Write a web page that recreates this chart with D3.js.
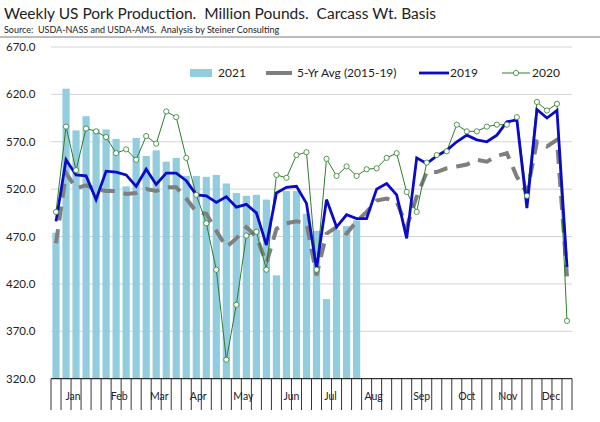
<!DOCTYPE html>
<html><head><meta charset="utf-8">
<script src="https://cdn.jsdelivr.net/npm/d3@7"></script>
<style>body{margin:0;background:#fff}svg{font-family:Lato,"Open Sans",sans-serif}text{white-space:pre}</style>
</head><body><svg id="c" width="600" height="422"></svg>
<script>
// weekly values, week 1..52
var y2021 = [474,626,582,597,583,583,573,523,574,555,561,549,553,534,534,533,535,526,516,513,514,509,429,518,518,494,476,404,477,481,487];
var y2019 = [486,551,535,534,509,539,538,535,523,541,525,537,537,529,514,513,506,512,501,504,495,461,516,522,523,505,436,509,480,493,489,489,520,526,514,468,553,547,555,561,570,577,572,570,577,591,593,500,604,595,603,438];
var y2020 = [496,586,540,584,581,575,558,562,551,576,568,602,596,553,514,484,435,340,398,471,475,435,535,532,556,559,435,552,534,544,534,541,542,553,558,517,496,548,556,560,588,581,581,586,588,588,596,513,612,603,610,381];
var avg5 = [463,537,521,524,520,518,518,515,516,520,518,522,522,510,496,494,476,459,468,480,470,442,478,484,486,484,429,473,480,473,486,496,508,510,507,480,512,538,538,542,544,546,551,549,555,558,533,516,570,565,572,428];
var months = ["Jan","Feb","Mar","Apr","May","Jun","Jul","Aug","Sep","Oct","Nov","Dec"];
var monthPos = [1.7,6.3,10.3,14.2,18.7,23.5,27.4,31.7,36.5,41,45.1,49.4];
var yTicks = [320,370,420,470,520,570,620,670];

var svg = d3.select("#c");
var weeks = d3.range(52);
var x = d3.scaleBand().domain(weeks).range([51,572]).paddingInner(0.28).paddingOuter(0.14);
var y = d3.scaleLinear().domain([320,670]).range([378.7,47]);
var cx = function(i){ return x(i) + x.bandwidth()/2; };

svg.append("text").attr("x",4).attr("y",19).attr("font-size",15.5).attr("fill","#222")
  .text("Weekly US Pork Production.  Million Pounds.  Carcass Wt. Basis");
svg.append("text").attr("x",4).attr("y",33).attr("font-size",9).attr("fill","#222")
  .text("Source:  USDA-NASS and USDA-AMS.  Analysis by Steiner Consulting");
svg.append("line").attr("x1",0).attr("x2",600).attr("y1",37).attr("y2",37).attr("stroke","#555").attr("stroke-width",0.8);

// gridlines
svg.append("g").selectAll("line").data(yTicks.slice(1)).join("line")
  .attr("x1",51).attr("x2",572).attr("y1",d=>y(d)).attr("y2",d=>y(d))
  .attr("stroke","#d4d4d4").attr("stroke-width",1);
svg.append("g").selectAll("text").data(yTicks).join("text")
  .attr("x",6).attr("y",d=>y(d)+4).attr("font-size",11.5).attr("fill","#222")
  .text(d=>d3.format(".1f")(d));

// bars
svg.append("g").selectAll("rect").data(y2021).join("rect")
  .attr("x",(d,i)=>x(i)).attr("width",x.bandwidth())
  .attr("y",d=>y(d)).attr("height",d=>y(320)-y(d)).attr("fill","#92cddf");

var line = d3.line().x((d,i)=>cx(i)).y(d=>y(d));
svg.append("path").datum(avg5).attr("d",line).attr("fill","none")
  .attr("stroke","#7f7f7f").attr("stroke-width",4).attr("stroke-dasharray","14,9");
svg.append("path").datum(y2020).attr("d",line).attr("fill","none")
  .attr("stroke","#2e7d2e").attr("stroke-width",1);
svg.append("path").datum(y2019).attr("d",line).attr("fill","none")
  .attr("stroke","#0a0ac8").attr("stroke-width",2.8);
svg.append("g").selectAll("circle").data(y2020).join("circle")
  .attr("cx",(d,i)=>cx(i)).attr("cy",d=>y(d)).attr("r",2.6)
  .attr("fill","#fff").attr("stroke","#2e7d2e").attr("stroke-width",0.8);

// x axis
svg.append("line").attr("x1",51).attr("x2",572).attr("y1",y(320)).attr("y2",y(320)).attr("stroke","#000");
svg.append("g").selectAll("line").data(d3.range(53)).join("line")
  .attr("x1",d=>51+d*x.step()).attr("x2",d=>51+d*x.step())
  .attr("y1",y(320)).attr("y2",410).attr("stroke","#000").attr("stroke-width",0.8);
svg.append("g").selectAll("text").data(months).join("text")
  .attr("x",(d,i)=>56+monthPos[i]*x.step()).attr("y",400).attr("font-size",10.5)
  .attr("text-anchor","middle").attr("fill","#222").text(d=>d);

// legend
var lg = svg.append("g").attr("font-size",12).attr("fill","#222");
lg.append("rect").attr("x",190).attr("y",69).attr("width",22).attr("height",8).attr("fill","#92cddf");
lg.append("text").attr("x",218).attr("y",77).text("2021");
lg.append("line").attr("x1",266).attr("x2",292).attr("y1",73).attr("y2",73).attr("stroke","#7f7f7f").attr("stroke-width",4);
lg.append("text").attr("x",297).attr("y",77).text("5-Yr Avg (2015-19)");
lg.append("line").attr("x1",419).attr("x2",449).attr("y1",73).attr("y2",73).attr("stroke","#0a0ac8").attr("stroke-width",2.8);
lg.append("text").attr("x",450).attr("y",77).text("2019");
lg.append("line").attr("x1",502).attr("x2",530).attr("y1",73).attr("y2",73).attr("stroke","#2e7d2e").attr("stroke-width",1);
lg.append("circle").attr("cx",516).attr("cy",73).attr("r",2.6).attr("fill","#fff").attr("stroke","#2e7d2e").attr("stroke-width",0.8);
lg.append("text").attr("x",532).attr("y",77).text("2020");
</script></body></html>
